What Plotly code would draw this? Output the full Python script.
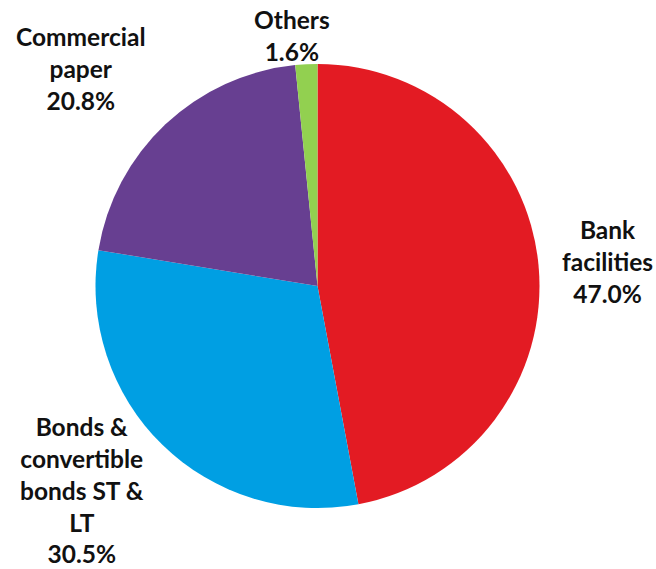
import plotly.graph_objects as go

# Funding sources breakdown
categories = ["Bank facilities", "Bonds & convertible bonds ST & LT", "Commercial paper", "Others"]
label_lines = ["Bank<br>facilities", "Bonds &<br>convertible<br>bonds ST &<br>LT", "Commercial<br>paper", "Others"]
shares = [47.0, 30.5, 20.8, 1.6]
colors = ["#E31B23", "#009FE3", "#673F91", "#92D050"]

W, H = 656, 569

fig = go.Figure(
    go.Pie(
        labels=categories,
        values=shares,
        sort=False,
        direction="clockwise",
        rotation=0,
        marker=dict(colors=colors, line=dict(width=0)),
        textinfo="none",
        hoverinfo="label+percent",
        showlegend=False,
        domain=dict(x=[95.5 / W, 539.5 / W], y=[1 - 508 / H, 1 - 64 / H]),
    )
)

# Label placement (pixel centres) for each slice's callout text
label_pos = [(607, 261), (82, 490), (80, 68), (292, 36)]
for text, val, (px, py) in zip(label_lines, shares, label_pos):
    fig.add_annotation(
        x=px / W, y=1 - py / H, xref="paper", yref="paper",
        xanchor="center", yanchor="middle", showarrow=False,
        text=f"<b>{text}<br>{val:.1f}%</b>",
        font=dict(family="Lato", size=24.5, color="#111111"),
        align="center",
    )

fig.update_layout(
    width=W, height=H,
    margin=dict(l=0, r=0, t=0, b=0),
    paper_bgcolor="white",
    plot_bgcolor="white",
)

fig.write_html("out.html")
